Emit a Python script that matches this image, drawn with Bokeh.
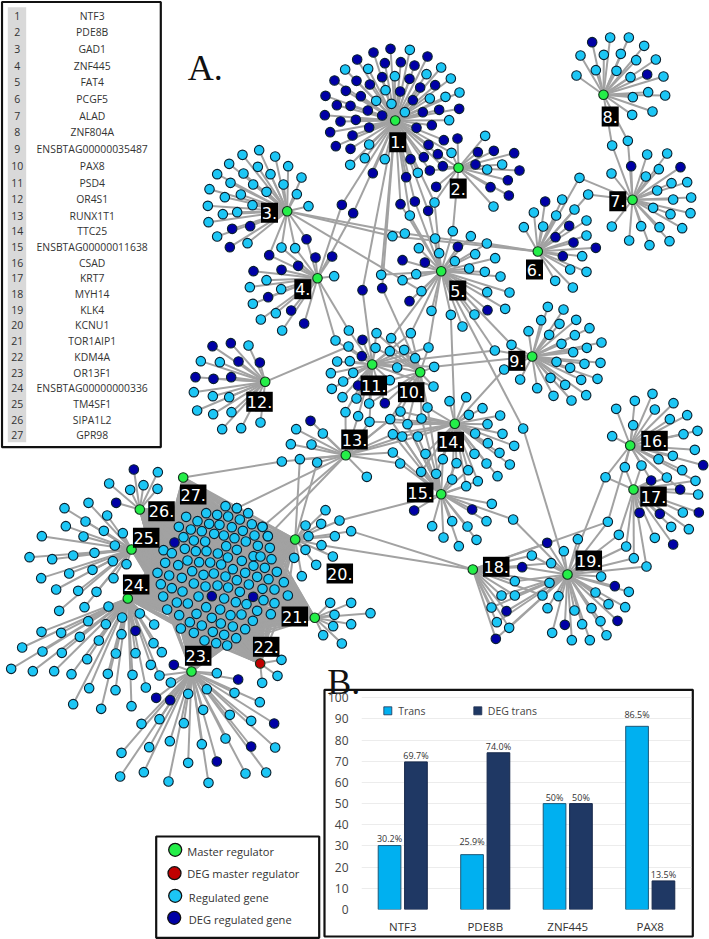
from bokeh.plotting import figure
from bokeh.layouts import column
from bokeh.embed import file_html
from bokeh.resources import INLINE
from bokeh.core.properties import value
from bokeh.models import ColumnDataSource, FactorRange, Range1d, FixedTicker
from bokeh.transform import dodge

W, H = 709, 939

gene_names = ["NTF3","PDE8B","GAD1","ZNF445","FAT4","PCGF5","ALAD","ZNF804A","ENSBTAG00000035487","PAX8","PSD4","OR4S1","RUNX1T1",
              "TTC25","ENSBTAG00000011638","CSAD","KRT7","MYH14","KLK4","KCNU1","TOR1AIP1","KDM4A","OR13F1","ENSBTAG00000000336","TM4SF1","SIPA1L2","GPR98"]

# hub positions
hub_x = [394.7,458,286.7,317,440.7,537.3,632,603,531.7,419.7,371.7,264.7,345.3,454.3,440.7,629.7,633,472.3,567,294.7,314.3,259.7,191,127.3,131,139.3,182.7]
hub_y = [120,167.3,210.7,277.7,270.7,251,199.3,94.3,356,371.7,364,381.3,454.7,423.3,493.7,445,489,569,574,539,617.3,663,671,598,549,509,477]
label_x = [397.3,457.7,269,302.3,457.3,534,617.3,609.7,516.3,410.7,373.3,259,354,450.3,419.7,654,653,495.7,588.3,339.3,294.3,265.7,197.7,135.7,145.7,161,192.7]
label_y = [141.7,188,212.3,288.7,290,269,200.7,116,360.3,391.7,385,401.3,439,441.3,492,440.3,496,566.3,560,573,616,646.3,655.3,584,537.3,510.7,494]
deg_hubs = [22]

# picture regions the gene positions were read in (origin, scale 3)
C2, C3, C4, C5, C6, C7, C8, C11, C12 = (180,20),(440,20),(180,290),(430,290),(0,470),(130,480),(90,650),(380,40),(380,220)
def at(c, pts):
    return [(c[0] + x/3, c[1] + y/3) for x, y in pts]

links = []
def add(hubs, kind, c, pts):
    links.append((hubs, kind, at(c, pts)))

# hub 1
add([1],"r",C2,[(494,147),(563,145),(587,241),(566,372),(553,413),(509,433)])
add([1],"r",C11,[(88,28),(43,107),(15,149),(138,101),(182,81),(211,114),(148,174),(195,169),(237,156),(33,190),(73,215),(206,239),(13,356),(112,397)])
add([1],"d",C2,[(530,117),(579,96),(568,192),(528,181),(462,180),(496,211),(541,227),(435,226),(469,254),(510,256),(562,270),(433,284),(480,303),(526,298),(566,321),(449,335),(516,345),(466,377),(510,385),(577,458)])
add([1],"d",C11,[(30,25),(141,48),(13,68),(61,65),(102,75),(5,110),(87,115),(59,153),(119,141),(164,134),(97,179),(127,215),(176,208),(236,205),(5,225),(108,262),(154,254),(144,313),(190,299),(130,350),(90,356),(77,410)])
add([1,2],"d",C11,[(172,341),(187,377),(148,390)])
add([1,2],"r",C11,[(213,337)])
add([1,2,5],"r",C11,[(162,486)])
add([1,5],"d",C2,[(660,551),(703,543),(743,571)])
add([1,5],"r",C2,[(688,585),(602,763)])
add([1,4],"d",C2,[(484,553),(518,578)])
add([1,11],"d",C2,[(546,809)])
add([1,10],"d",C2,[(605,803)])
# hub 2
add([2],"d",C11,[(231,294),(292,335),(340,331),(401,338),(285,372),(417,390),(382,419),(330,440),(385,465),(167,439)])
add([2],"r",C11,[(314,286),(365,372),(320,387),(339,498)])
add([2,5],"r",C3,[(37,632)])
# hub 3
add([3],"r",C2,[(384,557),(349,521),(309,492),(363,471),(323,437),(284,408),(236,389),(186,403),(146,430),(232,439),(270,461),(258,514),(218,492),(189,459),(110,461),(150,487),(181,522),(87,506),(133,530),(216,554),(82,556),(127,581),(170,575),(84,605),(110,648),(201,668)])
add([3],"d",C2,[(209,617),(155,625),(148,680)])
add([3,4],"r",C2,[(303,681),(344,683)])
add([3,4],"d",C2,[(378,656),(266,704)])
add([3,6],"r",C12,[(36,47),(73,39)])
add([3,5],"r",C12,[(123,212)])
# hub 4
add([4],"r",C2,[(461,767),(258,779),(302,806),(208,800)])
add([4],"r",C4,[(217,40),(241,87),(286,68),(305,120)])
add([4],"d",C2,[(405,711),(455,708),(353,736),(303,748),(219,752),(263,830)])
add([4],"d",C4,[(332,60),(371,99)])
add([4,11],"r",C4,[(465,150),(505,120)])
# hub 5
add([5],"r",C12,[(164,54),(271,47),(115,83),(176,98),(284,101),(344,113),(223,122),(266,144),(313,154),(360,168),(107,161),(66,179),(320,215),(387,216),(374,265),(153,271),(282,282),(246,318)])
add([5],"d",C12,[(232,79),(66,119),(133,126),(321,269),(87,242)])
add([5,6],"r",C12,[(319,69)])
add([5,14],"r",C12,[(211,283)])
add([5,19],"r",C5,[(278,414)])
add([5,9],"r",C5,[(243,163)])
add([5,9,11],"r",C5,[(193,180)])
add([5,10,11],"r",C4,[(691,128),(744,171)])
add([5,10],"r",C4,[(632,143)])
# hub 6
add([6],"r",C3,[(280,576),(250,620),(308,618),(347,585),(365,537),(402,567),(438,600),(438,645),(425,707),(389,747),(438,754),(344,781),(397,801)])
add([6],"d",C3,[(314,543),(386,616),(345,650),(399,666),(367,707),(466,682)])
add([6,7],"r",C3,[(417,472),(443,522)])
# hub 7
add([7],"r",C3,[(513,459),(620,402),(680,399),(655,446),(616,468),(693,488),(740,485),(650,510),(698,537),(752,531),(638,562),(690,581),(750,578),(602,617),(657,620),(725,623),(514,618),(566,660),(627,674),(687,662)])
add([7],"d",C3,[(572,437),(720,440)])
add([7,8],"r",C3,[(515,375),(562,361)])
# hub 8
add([8],"r",C3,[(420,105),(408,165),(490,103),(509,51),(565,51),(541,100),(611,76),(587,119),(646,117),(466,149),(528,151),(570,170),(669,168),(577,230),(623,215),(674,225),(575,283),(636,273)])
add([8],"d",C3,[(455,65),(620,162)])
# hub 9
add([9],"r",C5,[(352,49),(399,57),(332,89),(387,100),(437,88),(477,113),(294,122),(356,133),(433,134),(393,160),(513,156),(469,172),(428,185),(378,214),(419,232),(462,220),(510,217),(360,262),(452,268),(501,265),(269,267),(320,293),(404,283),(369,316),(423,330),(467,314)])
add([9,14],"r",C5,[(221,237)])
add([9,10,11],"r",C4,[(761,229)])
# hubs 10, 11
add([11],"r",C4,[(470,213),(508,212),(451,248),(518,247),(488,273),(454,295),(486,320),(528,324)])
add([11],"d",C4,[(546,148),(544,197),(533,285)])
add([11,12],"r",C4,[(504,168)])
add([10,11],"r",C4,[(585,172),(628,182),(671,178),(650,231),(628,269),(566,339),(588,128),(704,203),(759,288)])
add([10,11],"d",C4,[(613,338)])
add([10,13,14,15],"r",C4,[(629,386),(660,363)])
add([11,13,14],"r",C4,[(567,394)])
add([11,13],"r",C4,[(495,365),(533,377)])
add([10,14,15],"r",C4,[(741,351),(723,384),(681,401)])
# hub 12
add([12],"r",C4,[(204,165),(61,212),(118,215),(40,305),(97,317),(146,320),(50,360),(98,371),(153,365),(125,416),(182,413),(240,396)])
add([12],"d",C4,[(96,167),(151,158),(174,213),(238,216),(45,260),(99,265),(152,260)])
# hub 13
add([13],"d",C4,[(390,391)])
add([13],"r",C4,[(347,416),(427,429),(331,461),(393,462),(559,559)])
add([13,14,15],"r",C4,[(637,431),(665,438),(712,438)])
add([13,15],"r",C4,[(637,486),(659,519)])
add([13,20],"r",C4,[(358,506),(410,516)])
add([13,27],"r",C4,[(304,513)])
# hub 14
add([14],"r",C5,[(57,332),(107,320),(115,373),(156,353),(209,375),(171,401),(216,430),(134,429),(172,458),(251,466),(207,487),(132,490),(168,519),(238,522),(201,557)])
add([14,15],"r",C4,[(735,490),(722,544),(767,550),(787,506),(828,518),(863,539),(815,567),(857,587),(892,572)])
# hub 15
add([15],"r",C5,[(184,640),(168,692),(138,748),(85,767),(39,741),(111,708),(65,692),(5,707)])
add([15],"d",C5,[(125,657)])
add([15],"d",C4,[(701,660)])
add([15,19],"r",C5,[(248,687)])
add([15,20],"r",C7,[(627,120)])
# hub 16, 17
add([16],"r",C5,[(557,355),(613,331),(666,310),(729,338),(673,357),(770,374),(718,386),(608,404),(801,421),(759,431),(545,437),(793,478),(727,496),(684,506),(755,539)])
add([16],"d",C5,[(818,524)])
add([16,17],"r",C5,[(633,525),(583,530),(795,571),(709,561)])
add([16,17],"d",C5,[(662,570),(749,597)])
add([16,17,19],"r",C5,[(525,560)])
add([16,18,19],"r",C5,[(532,694)])
add([17],"r",C5,[(803,612),(757,666),(722,709),(775,716),(673,742)])
add([17],"d",C5,[(627,667),(688,670),(805,666),(728,762)])
add([17,19],"r",C5,[(565,733),(587,768),(610,803),(648,828)])
# hub 18, 19
add([18,19],"r",C5,[(304,795),(362,818),(253,872),(253,915),(213,915),(236,1012),(199,995),(183,951),(357,877),(336,915)])
add([18,19],"d",C5,[(350,757),(275,830),(228,962),(196,1045)])
add([19],"r",C5,[(442,746),(400,782),(512,858),(595,904),(495,906),(534,941),(584,950),(483,953),(510,992),(528,1034),(432,960),(455,1001),(478,1049),(424,1049),(365,1027),(384,917),(351,953)])
add([19],"d",C5,[(553,887),(561,991),(403,1003)])
# hub 20, 21, 22
add([20],"r",C7,[(585,89),(525,135),(572,130),(534,167),(613,167),(525,208),(607,228),(491,232),(557,253),(514,287)])
add([18,20],"r",C7,[(573,194),(662,152)])
add([21],"r",C7,[(599,367),(662,367),(612,403),(720,398),(608,437),(662,431),(578,464),(634,489)])
add([22],"r",C7,[(453,538),(441,586),(395,607)])
# hub 23
add([23],"r",C8,[(379,68),(241,96),(293,130),(349,116),(432,127),(508,155),(338,178),(418,193),(482,211),(153,220),(207,206),(280,218),(176,290),(238,272),(334,281),(405,264),(554,291),(93,307),(89,378),(160,365),(234,393),(293,337),(354,397),(465,369),(527,366)])
add([23],"d",C8,[(250,43),(443,87),(197,142),(239,149),(551,219),(482,288),(379,333)])
add([23,24],"r",C8,[(207,75)])
# hub 24
add([24],"r",C6,[(324,408),(263,452),(316,461),(365,441),(418,429),(461,462),(123,484),(182,487),(238,499),(295,510),(363,491),(459,518),(484,545),(65,531),(126,543),(184,547),(260,566),(346,549),(405,548),(451,583),(32,595),(97,602),(161,602),(213,611),(322,610),(396,613),(266,653),(345,659),(436,651),(218,701),(393,707),(302,715)])
add([24],"d",C6,[(405,481)])
# hub 25, 26
add([25],"r",C6,[(264,97),(192,113),(320,135),(196,167),(255,153),(310,181),(124,197),(249,198),(367,188),(87,260),(155,266),(218,255),(282,247),(343,225),(122,323),(206,309),(276,298),(337,272),(378,281),(167,357),(233,361),(288,364),(339,323),(176,421),(252,410)])
add([26],"r",C6,[(326,39),(389,58),(429,44),(471,55),(472,5)])
add([26],"d",C6,[(347,97),(400,-3)])
# the dense block shared by hubs 20-27
block_hubs = [20,21,22,23,24,25,26,27]
add(block_hubs,"r",C7,[(285,77),(319,83),(353,98),(227,98),(260,103),(293,108),(167,109),(201,122),(236,130),(267,133),(328,117),(364,131),(396,139),(145,139),(181,147),(214,152),(251,160),(280,165),(304,140),(337,151),(372,165),(412,167),(159,170),(190,180),(224,183),(312,173),(346,183),(163,205),(196,212),(228,212),(262,219),(287,197),(319,208),(382,196),(418,202),(99,209),(124,218),(104,247),(143,254),(171,240),(206,245),(239,246),(272,252),(292,231),(334,241),(369,227),(390,228),(423,236),(81,277),(116,285),(154,292),(185,272),(219,283),(250,279),(285,288),(307,266),(344,277),(369,256),(403,262),(439,274),(91,311),(124,323),(156,333),(190,309),(225,318),(261,315),(293,321),(319,299),(355,312),(380,289),(414,296),(460,305),(98,348),(139,366),(172,369),(204,348),(281,354),(328,334),(396,325),(432,327),(472,345),(110,387),(146,404),(198,400),(227,380),(269,387),(316,365),(348,371),(399,359),(432,368),(178,425),(151,444),(214,435),(244,412),(300,404),(333,402),(380,391),(421,401),(271,429),(307,438),(367,421),(344,446),(247,454),(190,457),(281,463),(222,480),(257,488),(290,495),(317,473)])
add(block_hubs,"d",C7,[(132,186),(244,347),(368,349)])
add([13],"r",C7,[(319,83),(396,139),(412,167)])

# bar chart values
bar_genes = ["NTF3","PDE8B","ZNF445","PAX8"]
trans = [30.2,25.9,50,86.5]
deg_trans = [69.7,74.0,50,13.5]
trans_text = ["30.2%","25.9%","50%","86.5%"]
deg_text = ["69.7%","74.0%","50%","13.5%"]
trans_text_y = [33.3,32.2,53,92.1]
deg_text_y = [72.7,76.9,53,16.6]
bar_ticks = [0,10,20,30,40,50,60,70,80,90,100]

legend_names = ["Master regulator","DEG master regulator","Regulated gene","DEG regulated gene"]

CYAN, NAVY, GREEN, RED, EDGE, RING = "#1cc6f5", "#0000a6", "#24ee48", "#c00000", "#a2a2a2", "#0b2230"
TEXT = "Open Sans"

p = figure(width=W, height=H, x_range=Range1d(0, W), y_range=Range1d(H, 0), output_backend="svg",
           toolbar_location=None, min_border=0, outline_line_color=None, tools="", frame_align=False)
p.axis.visible = False
p.grid.visible = False

# panels
p.quad(left=[1.5,155.7,324], right=[160.3,318.7,692.3], top=[1.5,836,689.3], bottom=[446.7,937.3,936],
       fill_color="white", line_color="#111111", line_width=2.2)
p.quad(left=[7.3], right=[25.7], top=[6.7], bottom=[441.7], fill_color="#d9d9d9", line_color=None)

rows = [15.3 + 16.67*i if i < 13 else 230.7 + 15.7*(i-13) for i in range(27)]
p.text(x=[16.7]*27, y=rows, text=[str(i+1) for i in range(27)], text_font=value(TEXT), text_font_size="10.5px",
       text_color="#333333", text_align="center", text_baseline="middle")
p.text(x=[91.7]*27, y=rows, text=gene_names, text_font=value(TEXT), text_font_size="10.4px",
       text_color="#333333", text_align="center", text_baseline="middle")

# edges
x0, y0, x1, y1 = [], [], [], []
for hubs, kind, pts in links:
    for (x, y) in pts:
        for h in hubs:
            x0.append(hub_x[h-1]); y0.append(hub_y[h-1]); x1.append(x); y1.append(y)
p.segment(x0, y0, x1, y1, line_color=EDGE, line_width=2)

# genes
rx, ry, dx, dy = [], [], [], []
for hubs, kind, pts in links:
    for (x, y) in pts:
        if kind == "r":
            rx.append(x); ry.append(y)
        else:
            dx.append(x); dy.append(y)
p.scatter(rx, ry, size=9.5, fill_color=CYAN, line_color=RING, line_width=1.1)
p.scatter(dx, dy, size=9.5, fill_color=NAVY, line_color=RING, line_width=1.1)

# hubs
p.scatter(hub_x, hub_y, size=9.5, fill_color=[RED if i+1 in deg_hubs else GREEN for i in range(27)],
          line_color="#10301a", line_width=1.1)

# hub labels
labels = [f"{i+1}." for i in range(27)]
p.rect(label_x, label_y, width=[17 if i < 9 else 26.5 for i in range(27)], height=[20]*27, fill_color="black", line_color=None)
p.text(label_x, label_y, text=labels, text_font=value("DejaVu Sans"), text_font_size="16px", text_color="white",
       text_align="center", text_baseline="middle")

# panel letters
p.text([187.3,326.7], [67.3,681.7], text=["A.","B."], text_font=value("Liberation Serif"), text_font_size="36px",
       text_color="#111111", text_baseline="alphabetic")

# network legend
p.scatter([174.7,174,174.7,173.7], [849.3,872.7,895.3,917.3], size=13, fill_color=[GREEN,RED,CYAN,NAVY],
          line_color="#111111", line_width=1.3)
p.text([186.7,186.7,188.3,188.3], [851,873.3,896.7,919], text=legend_names, text_font=value(TEXT), text_font_size="11.1px",
       text_color="#333333", text_baseline="middle")

# bar legend
p.scatter([387.3,477.3], [710.3,710.3], marker="square", size=8, fill_color=["#00b0f0","#1f3864"], line_color="#1f3050", line_width=0.8)
p.text([397.7,487.3], [710.3,710.3], text=["Trans","DEG trans"], text_font=value(TEXT), text_font_size="10.5px",
       text_color="#444444", text_baseline="middle")

# bar chart
src = ColumnDataSource(dict(g=bar_genes, trans=trans, deg=deg_trans, tt=trans_text, dt=deg_text, ty=trans_text_y, dy=deg_text_y))
b = figure(width=369, height=247, x_range=FactorRange(factors=bar_genes, range_padding=0, factor_padding=0),
           y_range=Range1d(0, 102), output_backend="svg", toolbar_location=None, tools="",
           min_border_left=37, min_border_right=2, min_border_top=4, min_border_bottom=26,
           background_fill_color=None, border_fill_color=None, outline_line_color=None, frame_align=False,
           margin=(689-H, 0, 0, 324))
b.vbar(x=dodge("g", -0.16, range=b.x_range), top="trans", width=0.275, source=src, fill_color="#00b0f0", line_color="#1b5878", line_width=1)
b.vbar(x=dodge("g", 0.16, range=b.x_range), top="deg", width=0.275, source=src, fill_color="#1f3864", line_color="#16284a", line_width=1)
b.text(x=dodge("g", -0.16, range=b.x_range), y="ty", text="tt", source=src, text_font=value(TEXT), text_font_size="9px",
       text_color="#333333", text_align="center", text_baseline="middle")
b.text(x=dodge("g", 0.16, range=b.x_range), y="dy", text="dt", source=src, text_font=value(TEXT), text_font_size="9px",
       text_color="#333333", text_align="center", text_baseline="middle")
b.yaxis.ticker = FixedTicker(ticks=bar_ticks)
b.yaxis.axis_line_color = None
b.yaxis.major_tick_line_color = None
b.yaxis.minor_tick_line_color = None
b.yaxis.major_tick_out = 0
b.yaxis.major_tick_in = 0
b.yaxis.major_label_standoff = 13
b.yaxis.major_label_text_font = TEXT
b.yaxis.major_label_text_font_size = "12px"
b.yaxis.major_label_text_color = "#444444"
b.xaxis.axis_line_color = None
b.xaxis.major_tick_line_color = None
b.xaxis.major_tick_out = 0
b.xaxis.major_tick_in = 0
b.xaxis.major_label_standoff = 9
b.xaxis.major_label_text_font = TEXT
b.xaxis.major_label_text_font_size = "11.5px"
b.xaxis.major_label_text_color = "#333333"
b.xgrid.visible = False
b.ygrid.grid_line_color = "#ececec"

page = column(p, b, width=W, height=H)
open("out.html", "w").write(file_html(page, INLINE))
